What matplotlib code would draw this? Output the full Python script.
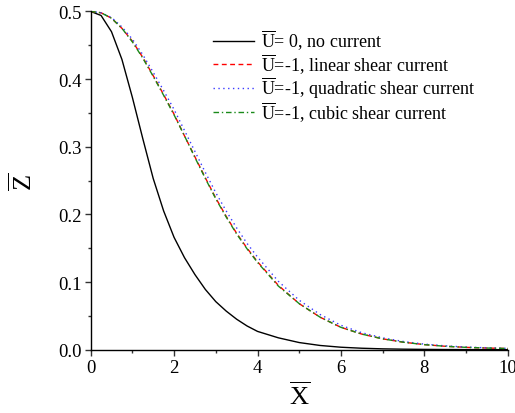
import matplotlib
matplotlib.use("Agg")
import matplotlib.pyplot as plt
from matplotlib.ticker import MultipleLocator, FormatStrFormatter

# values
x_vals = [0, 0.25, 0.5, 0.75, 1.0, 1.25, 1.5, 1.75, 2.0, 2.25, 2.5, 2.75, 3.0,
          3.25, 3.5, 3.75, 4.0, 4.5, 5.0, 5.5, 6.0, 6.5, 7.0, 7.5, 8.0, 8.5,
          9.0, 9.5, 10.0]

z_no_current = [0.500, 0.494, 0.470, 0.429, 0.373, 0.312, 0.253, 0.205, 0.166,
                0.136, 0.111, 0.089, 0.071, 0.057, 0.045, 0.035, 0.027, 0.0175,
                0.0105, 0.0062, 0.0036, 0.0021, 0.0012, 0.0007, 0.0004, 0.0002,
                0.0001, 0.00005, 0.0]

z_linear = [0.500, 0.498, 0.490, 0.475, 0.456, 0.432, 0.405, 0.377, 0.348,
            0.316, 0.285, 0.254, 0.224, 0.197, 0.172, 0.150, 0.130, 0.095,
            0.068, 0.048, 0.033, 0.023, 0.016, 0.011, 0.0075, 0.005, 0.0034,
            0.0024, 0.0017]

z_quadratic = [0.500, 0.498, 0.491, 0.477, 0.459, 0.436, 0.410, 0.383, 0.355,
               0.324, 0.293, 0.262, 0.232, 0.205, 0.180, 0.157, 0.137, 0.101,
               0.073, 0.052, 0.036, 0.025, 0.0175, 0.012, 0.0082, 0.0056,
               0.0038, 0.0027, 0.0019]

z_cubic = [0.500, 0.498, 0.490, 0.475, 0.455, 0.431, 0.404, 0.376, 0.347,
           0.316, 0.284, 0.253, 0.223, 0.196, 0.171, 0.149, 0.129, 0.094,
           0.068, 0.048, 0.033, 0.023, 0.016, 0.011, 0.0074, 0.005, 0.0034,
           0.0024, 0.0017]

labels = [r"$\overline{\mathrm{U}}$= 0, no current",
          r"$\overline{\mathrm{U}}$=-1, linear shear current",
          r"$\overline{\mathrm{U}}$=-1, quadratic shear current",
          r"$\overline{\mathrm{U}}$=-1, cubic shear current"]

plt.rcParams['font.family'] = ['Liberation Serif', 'DejaVu Serif']
plt.rcParams['mathtext.fontset'] = 'custom'
plt.rcParams['mathtext.rm'] = 'Liberation Serif'

fig = plt.figure(figsize=(5.15, 4.14), dpi=100)
ax = fig.add_axes([0.176, 0.153, 0.810, 0.817])

ax.plot(x_vals, z_no_current, color='black', lw=1.0, ls='-', label=labels[0])
ax.plot(x_vals, z_linear, color='red', lw=1.0, ls=(0, (3.5, 2.5)), label=labels[1])
ax.plot(x_vals, z_quadratic, color='#3a3aff', lw=1.0, ls=(0, (1, 2.5)), label=labels[2])
ax.plot(x_vals, z_cubic, color='#1a8a1a', lw=1.0, ls=(0, (4, 2, 1, 2)), label=labels[3])

ax.set_xlim(0, 10)
ax.set_ylim(0, 0.5)
ax.xaxis.set_major_locator(MultipleLocator(2))
ax.xaxis.set_minor_locator(MultipleLocator(1))
ax.yaxis.set_major_locator(MultipleLocator(0.1))
ax.yaxis.set_minor_locator(MultipleLocator(0.05))
ax.yaxis.set_major_formatter(FormatStrFormatter('%.1f'))

ax.spines['top'].set_visible(False)
ax.spines['right'].set_visible(False)
ax.spines['left'].set_linewidth(1.0)
ax.spines['bottom'].set_linewidth(1.0)
ax.tick_params(which='major', direction='out', length=4.5, width=1.0, pad=2,
               labelsize=13.5, colors='#333333', labelcolor='black')
ax.tick_params(which='minor', direction='out', length=2.5, width=1.0, colors='#333333')

ax.set_xlabel(r"$\overline{\mathrm{X}}$", fontsize=19, labelpad=4)
ax.set_ylabel(r"$\overline{\mathrm{Z}}$", fontsize=19, labelpad=15)

ax.legend(loc='upper left', bbox_to_anchor=(0.413, 0.93),
          bbox_transform=fig.transFigure, frameon=False, fontsize=13,
          borderpad=0, borderaxespad=0, handlelength=2.3,
          handletextpad=0.4, labelspacing=-0.05)

fig.savefig('out.png', dpi=100)
